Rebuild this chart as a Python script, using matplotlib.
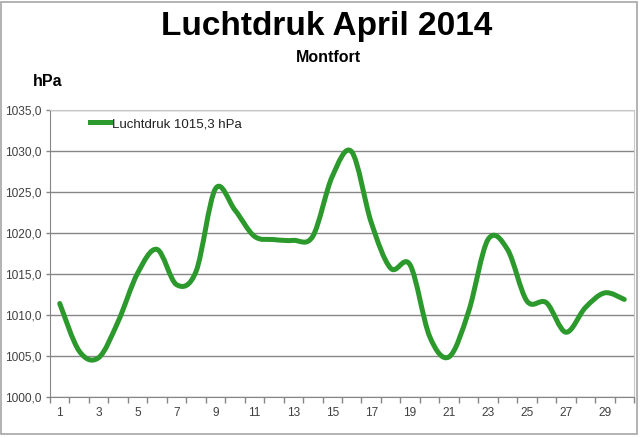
import numpy as np
import matplotlib
matplotlib.use('Agg')
import matplotlib.pyplot as plt
from matplotlib.path import Path
from matplotlib.patches import PathPatch, Rectangle
from matplotlib.ticker import FuncFormatter

# daily air pressure, April 2014, Montfort
days = list(range(1, 31))
pressure = [1011.4, 1005.6, 1004.8, 1009.2, 1015.1, 1018.0, 1013.7, 1015.3, 1025.4, 1022.8,
            1019.6, 1019.2, 1019.1, 1019.6, 1026.9, 1029.9, 1021.3, 1015.7, 1016.1, 1007.4,
            1004.9, 1010.4, 1019.2, 1018.0, 1011.7, 1011.5, 1007.9, 1010.9, 1012.7, 1011.9]
label_days = [str(d) for d in range(1, 30, 2)]
legend_label = 'Luchtdruk 1015,3 hPa'

plt.rcParams['font.family'] = ['Liberation Sans', 'DejaVu Sans']

GREEN = '#2c992c'
GRID = '#868686'
TEXT = '#404040'


def smooth_path(x, y):
    """excel style smoothed line: catmull-rom segments as cubic bezier curves"""
    pts = np.column_stack([x, y]).astype(float)
    ext = np.vstack([pts[0], pts, pts[-1]])
    verts = [pts[0]]
    codes = [Path.MOVETO]
    for i in range(1, len(ext) - 2):
        p0, p1, p2, p3 = ext[i - 1], ext[i], ext[i + 1], ext[i + 2]
        verts += [p1 + (p2 - p0) / 6.0, p2 - (p3 - p1) / 6.0, p2]
        codes += [Path.CURVE4] * 3
    return Path(verts, codes)


fig = plt.figure(figsize=(6.4, 4.38), dpi=100)
ax = fig.add_axes([50 / 640, 1 - 397 / 438, 584 / 640, 287 / 438])

ax.add_patch(PathPatch(smooth_path(days, pressure), facecolor='none', edgecolor=GREEN,
                       lw=3.6, capstyle='round', joinstyle='round', zorder=3))
ax.plot([], [], color=GREEN, lw=3.6, label=legend_label)

ax.set_xlim(0.5, 30.5)
ax.set_ylim(1000, 1035)

# y axis
ax.set_yticks(np.arange(1000, 1036, 5))
ax.yaxis.set_major_formatter(FuncFormatter(lambda v, p: ('%.1f' % v).replace('.', ',')))
ax.grid(axis='y', color=GRID, lw=1)
ax.set_axisbelow(True)
ax.tick_params(axis='y', length=3, width=1, color=GRID, labelcolor=TEXT, labelsize=8.6, pad=3)

# x axis: tick marks on category boundaries, labels on every second day
ax.set_xticks(np.arange(0.5, 31, 1))
ax.set_xticklabels([])
ax.tick_params(axis='x', length=4, width=1, color=GRID)
ax.set_xticks(range(1, 30, 2), minor=True)
ax.set_xticklabels(label_days, minor=True)
ax.tick_params(axis='x', which='minor', length=0, labelcolor=TEXT, labelsize=8.6, pad=7)

for s in ['left', 'bottom']:
    ax.spines[s].set_color(GRID)
for s in ['top', 'right']:
    ax.spines[s].set_color('#c8c8c8')

leg = ax.legend(loc='center left', bbox_to_anchor=(40 / 584, (397 - 124) / 287), frameon=False,
                fontsize=9.5, handlelength=1.5, handletextpad=0.2, borderpad=0, borderaxespad=0)
for t in leg.get_texts():
    t.set_color('#202020')

fig.text(327 / 640, 1 - 27 / 438, 'Luchtdruk April 2014', ha='center', va='center',
         fontsize=24, fontweight='bold')
fig.text(328 / 640, 1 - 57 / 438, 'Montfort', ha='center', va='center',
         fontsize=11.5, fontweight='bold')
fig.text(33 / 640, 1 - 82 / 438, 'hPa', ha='left', va='center', fontsize=11.5, fontweight='bold')

# chart area border
fig.patches.append(Rectangle((1 / 640, 1 - 434 / 438), 636 / 640, 432 / 438, transform=fig.transFigure,
                             facecolor='none', edgecolor='#a6a6a6', lw=1.2))

fig.savefig('out.png', dpi=100)
